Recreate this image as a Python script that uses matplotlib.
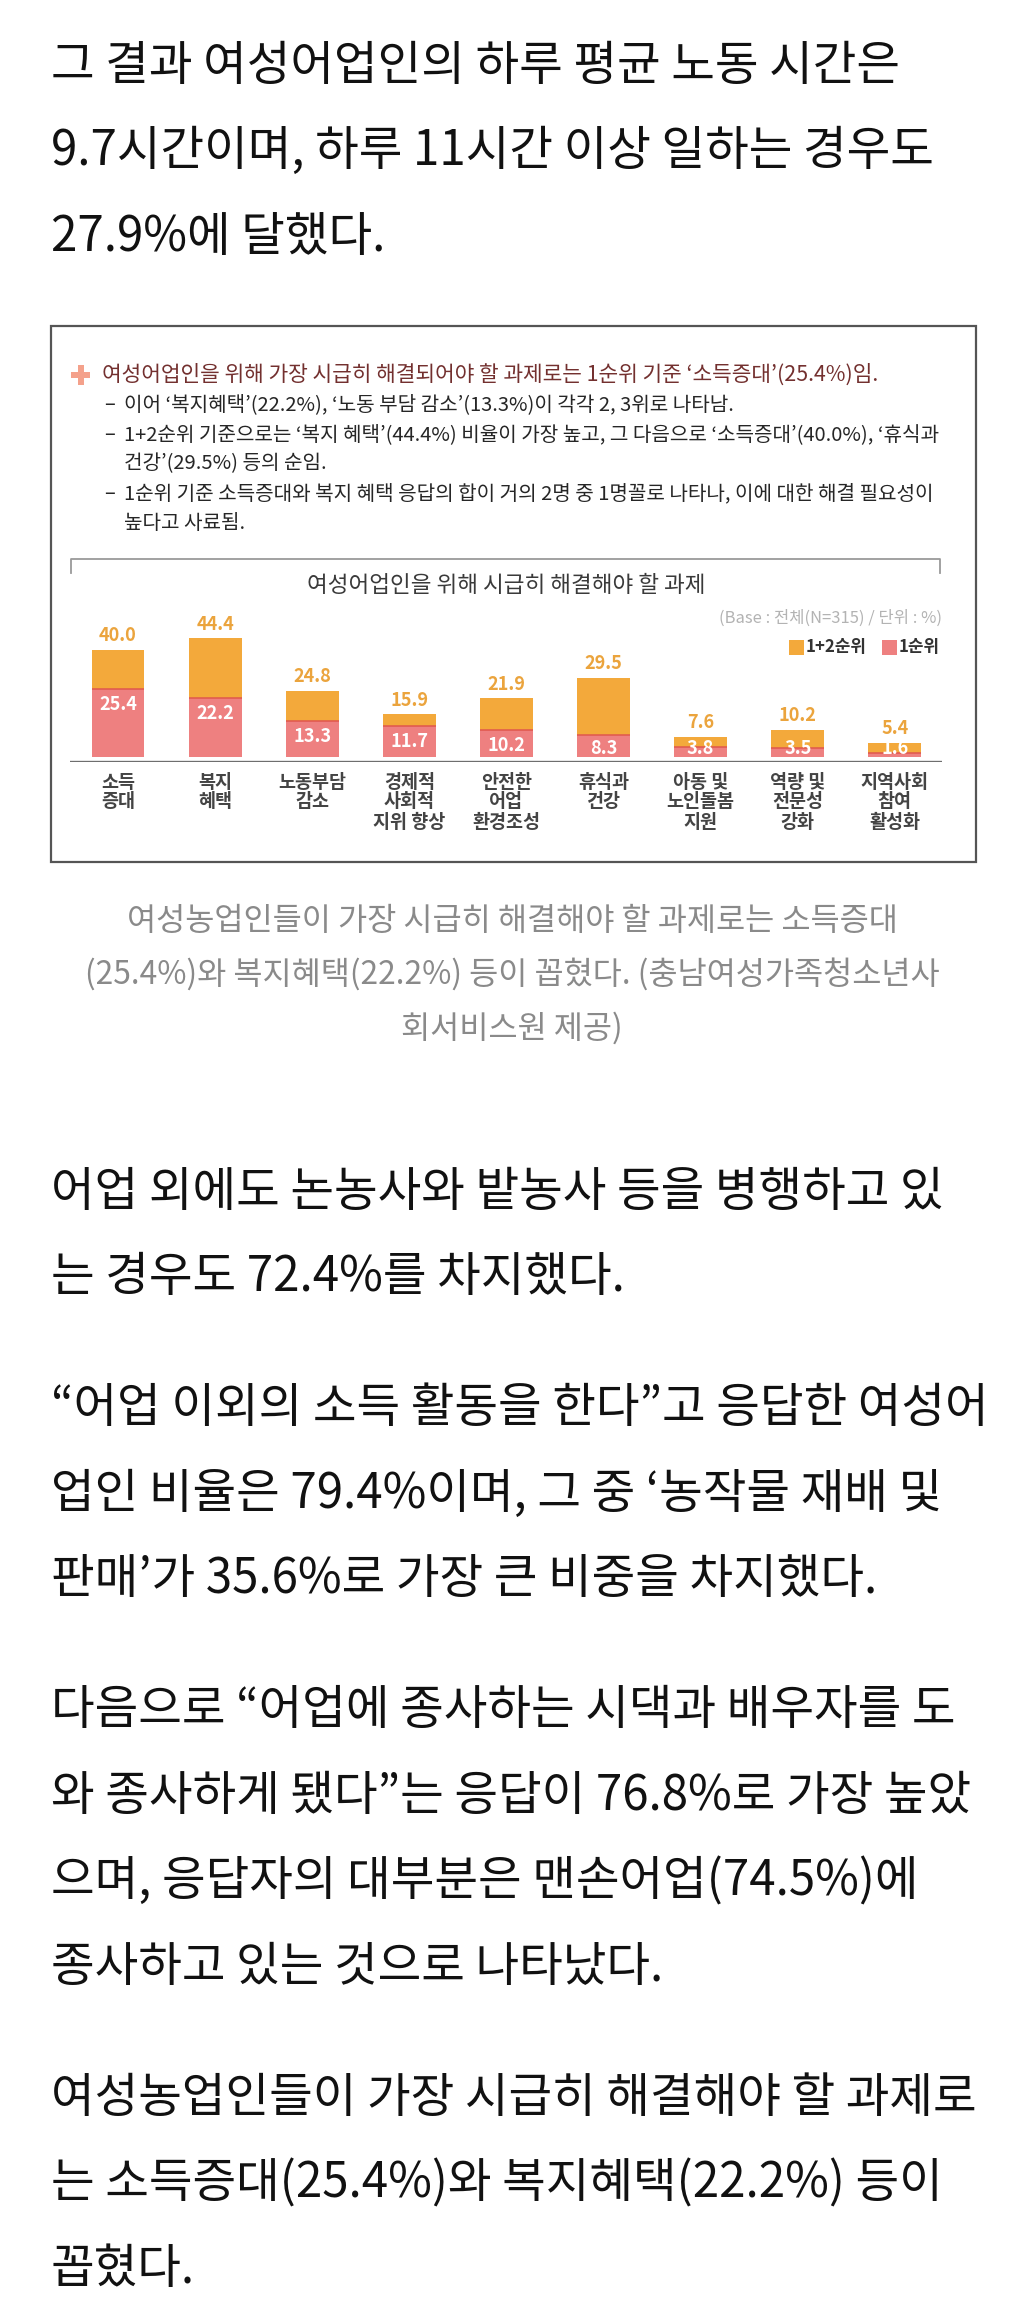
import numpy as np
import matplotlib
matplotlib.use('Agg')
import matplotlib.pyplot as plt
from matplotlib.patches import Rectangle
from matplotlib.lines import Line2D
import matplotlib.transforms as mtransforms

plt.rcParams['font.family'] = ['Noto Sans CJK KR', 'DejaVu Sans']

W, H = 1024, 2314

# 차트 데이터
categories = ['소득\n증대', '복지\n혜택', '노동부담\n감소', '경제적\n사회적\n지위 향상',
              '안전한\n어업\n환경조성', '휴식과\n건강', '아동 및\n노인돌봄\n지원',
              '역량 및\n전문성\n강화', '지역사회\n참여\n활성화']
rank12 = [40.0, 44.4, 24.8, 15.9, 21.9, 29.5, 7.6, 10.2, 5.4]
rank1 = [25.4, 22.2, 13.3, 11.7, 10.2, 8.3, 3.8, 3.5, 1.6]
legend_labels = ['1+2순위', '1순위']
chart_title = '여성어업인을 위해 시급히 해결해야 할 과제'
base_note = '(Base : 전체(N=315) / 단위 : %)'

summary_lines = [
    '여성어업인을 위해 가장 시급히 해결되어야 할 과제로는 1순위 기준 ‘소득증대’(25.4%)임.',
    '이어 ‘복지혜택’(22.2%), ‘노동 부담 감소’(13.3%)이 각각 2, 3위로 나타남.',
    '1+2순위 기준으로는 ‘복지 혜택’(44.4%) 비율이 가장 높고, 그 다음으로 ‘소득증대’(40.0%), ‘휴식과',
    '건강’(29.5%) 등의 순임.',
    '1순위 기준 소득증대와 복지 혜택 응답의 합이 거의 2명 중 1명꼴로 나타나, 이에 대한 해결 필요성이',
    '높다고 사료됨.',
]
summary_dash = [False, True, True, False, True, False]

top_text = ['그 결과 여성어업인의 하루 평균 노동 시간은',
            '9.7시간이며, 하루 11시간 이상 일하는 경우도',
            '27.9%에 달했다.']
caption = ['여성농업인들이 가장 시급히 해결해야 할 과제로는 소득증대',
           '(25.4%)와 복지혜택(22.2%) 등이 꼽혔다. (충남여성가족청소년사',
           '회서비스원 제공)']
body = [
    ['어업 외에도 논농사와 밭농사 등을 병행하고 있',
     '는 경우도 72.4%를 차지했다.'],
    ['“어업 이외의 소득 활동을 한다”고 응답한 여성어',
     '업인 비율은 79.4%이며, 그 중 ‘농작물 재배 및',
     '판매’가 35.6%로 가장 큰 비중을 차지했다.'],
    ['다음으로 “어업에 종사하는 시댁과 배우자를 도',
     '와 종사하게 됐다”는 응답이 76.8%로 가장 높았',
     '으며, 응답자의 대부분은 맨손어업(74.5%)에',
     '종사하고 있는 것으로 나타났다.'],
    ['여성농업인들이 가장 시급히 해결해야 할 과제로',
     '는 소득증대(25.4%)와 복지혜택(22.2%) 등이',
     '꼽혔다.'],
]

fig = plt.figure(figsize=(W / 100, H / 100), dpi=100)
fig.patch.set_facecolor('white')
renderer = fig.canvas.get_renderer()


def fx(px):
    return px / W


def fy(py):
    return 1 - py / H


def fit_size(s, width_px, weight='normal'):
    # 글자 폭을 원본에 맞추기
    t = fig.text(0, 0, s, fontsize=20, fontweight=weight)
    w = t.get_window_extent(renderer).width
    t.remove()
    return 20 * width_px / w


def put(px, py, s, size, color='#111111', ha='left', weight='normal'):
    return fig.text(fx(px), fy(py), s, fontsize=size, color=color, ha=ha,
                    va='center', fontweight=weight)


# 상단 본문
body_size = fit_size(top_text[0], 848, 'light')
for i, line in enumerate(top_text):
    put(51, 66 + 85.5 * i, line, body_size, weight='light')

# 바깥 상자
fig.add_artist(Rectangle((fx(51), fy(862)), fx(976) - fx(51), (862 - 326) / H,
                         transform=fig.transFigure, fill=False, ec='#555555', lw=1.6))

# 요약 문장
s1 = fit_size(summary_lines[0], 777, 'medium')
s2 = fit_size(summary_lines[4], 811, 'medium')
fig.add_artist(Rectangle((fx(71), fy(378)), 19 / W, 6 / H, transform=fig.transFigure,
                         color='#f4a18b', lw=0))
fig.add_artist(Rectangle((fx(77.5), fy(385)), 6 / W, 20 / H, transform=fig.transFigure,
                         color='#f4a18b', lw=0))
for i, (line, dash) in enumerate(zip(summary_lines, summary_dash)):
    y = 375 + 29.6 * i
    if i == 0:
        put(102, y, line, s1, color='#73302f', weight='medium')
        continue
    if dash:
        put(104, y, '–', s2, color='#262626', weight='medium')
    put(124, y, line, s2, color='#262626', weight='medium')

# 안쪽 틀
fig.add_artist(Line2D([fx(71), fx(71), fx(940), fx(940)], [fy(573), fy(559), fy(559), fy(573)],
                      transform=fig.transFigure, color='#9a9a9a', lw=1.3))

put(506, 586, chart_title, fit_size(chart_title, 398, 'medium'), color='#3a3a3a',
    ha='center', weight='medium')
put(942, 618, base_note, fit_size(base_note, 222), color='#b3b3b3', ha='right')

# 범례
orange = '#f3a93b'
pink = '#ee8080'
leg_size = fit_size(legend_labels[0], 61, 'bold')
fig.add_artist(Rectangle((fx(789), fy(655)), 15 / W, 15 / H, transform=fig.transFigure,
                         color=orange, lw=0))
put(806, 647, legend_labels[0], leg_size, color='#333333', weight='bold')
fig.add_artist(Rectangle((fx(882), fy(655)), 15 / W, 15 / H, transform=fig.transFigure,
                         color=pink, lw=0))
put(899, 647, legend_labels[1], leg_size, color='#333333', weight='bold')

# 막대그래프
ppu = 2.68  # px per %
ax = fig.add_axes([70 / W, 1 - (757 + 2 * ppu) / H, 872 / W, 52 * ppu / H])
ax.set_xlim(-0.494, 8.486)
ax.set_ylim(-2, 50)
ax.axis('off')
x = np.arange(len(categories))
bw = 0.545
ax.bar(x, rank12, width=bw, color=orange)
ax.bar(x, rank1, width=bw, color=pink)
ax.hlines(rank1, x - bw / 2, x + bw / 2, color='#e0574c', lw=1.1)
ax.axhline(-5 / ppu, color='#6e6e6e', lw=2.4)

val_size = fit_size('40.0', 38, 'bold')
for xi, a, b in zip(x, rank12, rank1):
    ax.text(xi, a + 14 / ppu, f'{a:.1f}', ha='center', va='center', color='#eba43d',
            fontsize=val_size, fontweight='bold')
    ax.text(xi, max(b - 5.8, 3.2), f'{b:.1f}', ha='center', va='center', color='white',
            fontsize=val_size, fontweight='bold')

cat_size = fit_size('노동부담', 68, 'bold')
trans = mtransforms.blended_transform_factory(ax.transData, fig.transFigure)
for xi, cat in zip(x, categories):
    for j, part in enumerate(cat.split('\n')):
        ax.text(xi, fy(782 + 20 * j), part, transform=trans, ha='center', va='center',
                color='#444444', fontsize=cat_size, fontweight='bold')

# 사진 설명
cap_size = fit_size(caption[0], 770, 'light')
for i, line in enumerate(caption):
    put(512, 921 + 53.5 * i, line, cap_size, color='#8a8a8a', ha='center', weight='light')

# 아래 본문
y = 1192
for para in body:
    for line in para:
        put(51, y, line, body_size, weight='light')
        y += 85.5
    y += 131 - 85.5

fig.savefig('out.png', dpi=100, facecolor='white')
